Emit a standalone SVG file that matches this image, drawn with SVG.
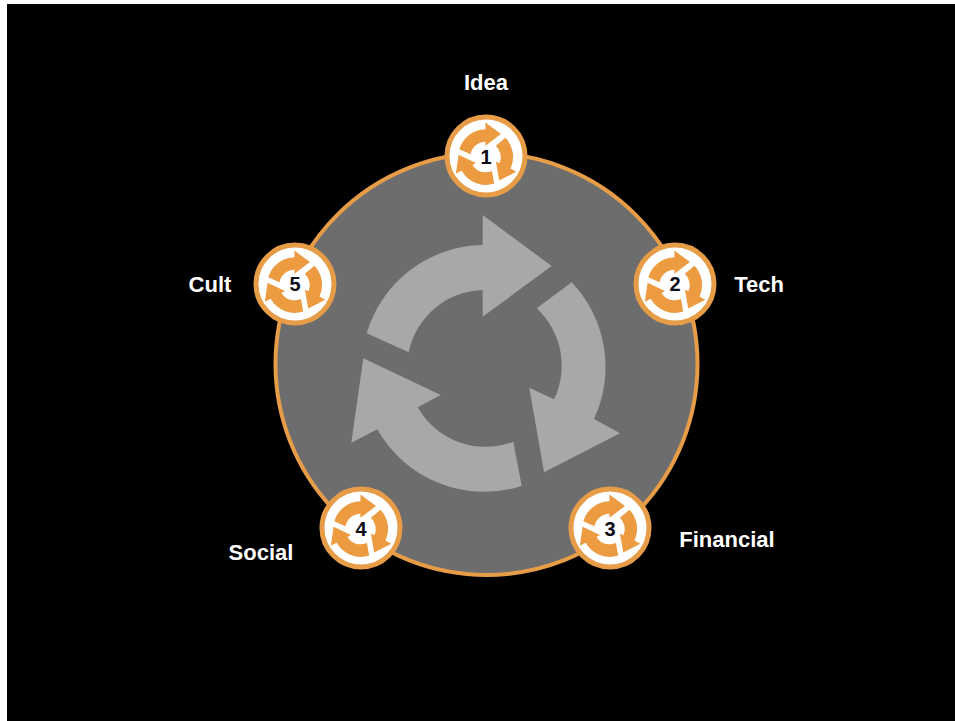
<svg xmlns="http://www.w3.org/2000/svg" xmlns:xlink="http://www.w3.org/1999/xlink" width="955" height="721" viewBox="0 0 955 721">
<style>
.lbl{font-family:"Liberation Sans",Arial,sans-serif;font-weight:700;font-size:22px;fill:#fff;text-anchor:middle}
.num{font-family:"Liberation Sans",Arial,sans-serif;font-weight:700;font-size:20px;fill:#0b0b14;text-anchor:middle}
.disc{fill:#fff;stroke:#e79c48;stroke-width:5}
.ico{fill:#ec9b41}
</style>
<defs>
<g id="cycle">
<path d="M-116.3-34.7L-74.3-15.7A78 78 0 0 1-.3-78V-51.300L68.700-102-.3-153V-123A123 123 0 0 0-116.300-34.700Z"/>
<path d="M88.700-85.700L53.700-59.700A78 78 0 0 1 71 31.300L46.300 19.700 61 104.300 137 65.300 111 51A123 123 0 0 0 88.700-85.700Z"/>
<path d="M38.700 118L30.300 73.700A78 78 0 0 1-65.300 39.300L-42.300 27-119.700-9.700-131.700 74.700-105.700 61.300A123 123 0 0 0 38.700 118Z"/>
</g>
<g id="icon">
<path d="M-116.3-34.700L-66.500-12A68 68 0 0 1-.3-68V-50L68.700-102-.3-153V-123A123 123 0 0 0-116.300-34.700Z"/>
<path d="M88.700-85.700L46-50A68 68 0 0 1 62 28L46.300 19.700 61 104.300 137 65.300 111 51A123 123 0 0 0 88.700-85.700Z"/>
<path d="M38.700 118L28.500 62A68 68 0 0 1-58 35L-42.300 27-119.700-9.700-131.700 74.700-105.700 61.300A123 123 0 0 0 38.700 118Z"/>
</g>
</defs>
<rect width="955" height="721" fill="#fff"/>
<rect x="7" y="4" width="948" height="717" fill="#000"/>
<g id="hub">
<circle cx="486.500" cy="364" r="211" fill="#6d6d6d" stroke="#e79c48" stroke-width="4"/>
<use xlink:href="#cycle" href="#cycle" transform="translate(483 368)" fill="#a8a8a8"/>
</g>
<g id="node1"><circle class="disc" cx="486" cy="156" r="39"/><use class="ico" xlink:href="#icon" href="#icon" transform="translate(485.500 157) scale(.225)"/><text class="num" x="486" y="164">1</text><text class="lbl" x="486" y="90">Idea</text></g>
<g id="node2"><circle class="disc" cx="675" cy="284" r="39"/><use class="ico" xlink:href="#icon" href="#icon" transform="translate(674.500 285) scale(.225)"/><text class="num" x="675" y="291">2</text><text class="lbl" x="759" y="292">Tech</text></g>
<g id="node3"><circle class="disc" cx="610" cy="528" r="39"/><use class="ico" xlink:href="#icon" href="#icon" transform="translate(609.500 529) scale(.225)"/><text class="num" x="610" y="536">3</text><text class="lbl" x="727" y="547">Financial</text></g>
<g id="node4"><circle class="disc" cx="361" cy="528" r="39"/><use class="ico" xlink:href="#icon" href="#icon" transform="translate(360.500 529) scale(.225)"/><text class="num" x="361" y="536">4</text><text class="lbl" x="261" y="560">Social</text></g>
<g id="node5"><circle class="disc" cx="295" cy="284" r="39"/><use class="ico" xlink:href="#icon" href="#icon" transform="translate(294.500 285) scale(.225)"/><text class="num" x="295" y="291">5</text><text class="lbl" x="210" y="292">Cult</text></g>
</svg>
